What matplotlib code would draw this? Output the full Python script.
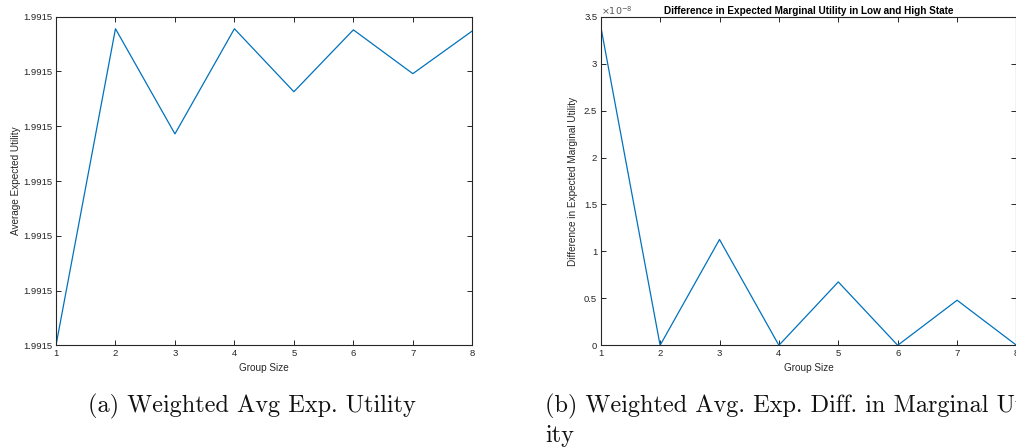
import matplotlib
matplotlib.use("Agg")
import matplotlib.pyplot as plt
from matplotlib.ticker import FixedLocator, FormatStrFormatter, FuncFormatter

# Group sizes shared by both panels
group_size = [1, 2, 3, 4, 5, 6, 7, 8]

# Panel (a): weighted average expected utility
avg_exp_utility = [1.9915000, 1.99150578, 1.99150386, 1.99150578,
                   1.99150463, 1.99150576, 1.99150496, 1.99150574]
utility_ticks = [1.991500, 1.991501, 1.991502, 1.991503,
                 1.991504, 1.991505, 1.991506]

# Panel (b): difference in expected marginal utility, low vs high state
diff_marginal_utility = [3.40e-8, 0.0, 1.127e-8, 0.0, 0.675e-8, 0.0, 0.48e-8, 0.0]
diff_ticks = [0, 0.5e-8, 1.0e-8, 1.5e-8, 2.0e-8, 2.5e-8, 3.0e-8, 3.5e-8]
diff_exponent = -8

LINE_COLOR = "#0072BD"
AX_COLOR = "#262626"
SANS = ["Liberation Sans", "DejaVu Sans"]

W, H = 1016, 448
fig = plt.figure(figsize=(W / 100, H / 100), dpi=100)


def px_axes(x0, y0, x1, y1):
    return fig.add_axes([x0 / W, 1 - y1 / H, (x1 - x0) / W, (y1 - y0) / H])


def matlab_style(ax):
    for s in ax.spines.values():
        s.set_color(AX_COLOR)
        s.set_linewidth(0.8)
    ax.tick_params(direction="in", length=3.5, width=0.7, colors=AX_COLOR,
                   labelsize=6.8, top=True, right=True, pad=2.5)
    for lab in ax.get_xticklabels() + ax.get_yticklabels():
        lab.set_family(SANS)
    ax.set_xlim(1, 8)
    ax.xaxis.set_major_locator(FixedLocator(group_size))


# ---- (a) ----
ax1 = px_axes(56, 16.7, 472.3, 345.3)
ax1.plot(group_size, avg_exp_utility, color=LINE_COLOR, lw=0.9)
ax1.set_ylim(utility_ticks[0], utility_ticks[-1])
ax1.yaxis.set_major_locator(FixedLocator(utility_ticks))
ax1.yaxis.set_major_formatter(FormatStrFormatter("%.4f"))
matlab_style(ax1)
ax1.set_xlabel("Group Size", fontsize=7.2, family=SANS, color=AX_COLOR)
ax1.set_ylabel("Average Expected Utility", fontsize=7.2, family=SANS, color=AX_COLOR)
ax1.xaxis.set_label_coords(0.5, -0.054)
ax1.yaxis.set_label_coords(-0.085, 0.5)

# ---- (b) ----
ax2 = px_axes(600.7, 16.7, 1016.5, 345.3)
ax2.plot(group_size, diff_marginal_utility, color=LINE_COLOR, lw=0.9)
ax2.set_ylim(diff_ticks[0], diff_ticks[-1])
ax2.yaxis.set_major_locator(FixedLocator(diff_ticks))
scale = 10.0 ** diff_exponent
ax2.yaxis.set_major_formatter(FuncFormatter(lambda v, p: f"{round(v / scale, 6):g}"))
matlab_style(ax2)
ax2.text(0.0, 1.0, r"$\times10^{%d}$" % diff_exponent, transform=ax2.transAxes,
         ha="left", va="bottom", fontsize=6.8, color="#555555", family=SANS)
ax2.set_xlabel("Group Size", fontsize=7.2, family=SANS, color=AX_COLOR)
ax2.set_ylabel("Difference in Expected Marginal Utility", fontsize=7.2,
               family=SANS, color=AX_COLOR)
ax2.xaxis.set_label_coords(0.5, -0.054)
ax2.yaxis.set_label_coords(-0.055, 0.5)
ax2.set_title("Difference in Expected Marginal Utility in Low and High State",
              fontsize=7.2, fontweight="bold", family=SANS, color="black", pad=2)

# ---- captions ----
CAP = dict(fontsize=17.5, family=["cmr10", "DejaVu Serif"], color="#111111")
fig.text(252 / W, 1 - 406 / H, "(a) Weighted Avg Exp. Utility",
         ha="center", va="center", **CAP)
fig.text(545 / W, 1 - 406 / H, "(b) Weighted Avg. Exp. Diff. in Marginal Util-",
         ha="left", va="center", **CAP)
fig.text(545 / W, 1 - 436 / H, "ity", ha="left", va="center", **CAP)

fig.savefig("out.png", dpi=100)
